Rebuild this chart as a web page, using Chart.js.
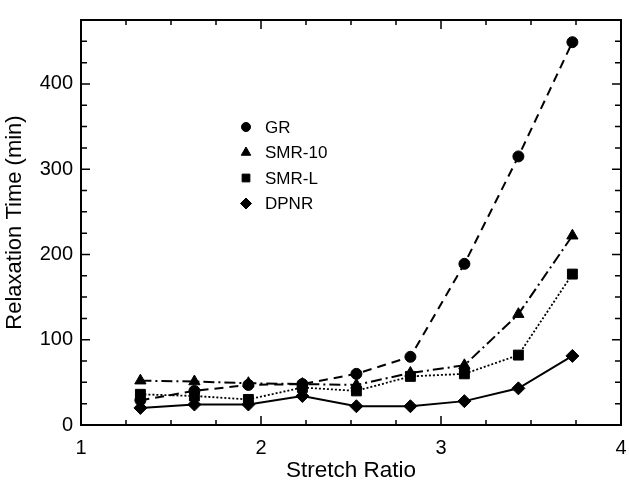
<!DOCTYPE html>
<html>
<head>
<meta charset="utf-8">
<script src="https://cdn.jsdelivr.net/npm/chart.js@4/dist/chart.umd.min.js"></script>
<style>
  html, body { margin: 0; padding: 0; background: #fff; }
  #wrap { width: 629px; height: 482px; }
</style>
</head>
<body>
<div id="wrap"><canvas id="chart" width="629" height="482"></canvas></div>
<script>
var stretchRatio = [1.33, 1.63, 1.93, 2.23, 2.53, 2.83, 3.13, 3.43, 3.73];
var grValues = [29, 40, 47, 48, 60, 80, 189, 315, 449];
var smr10Values = [52, 51, 49, 48, 47, 61, 70, 130, 222];
var smrLValues = [36, 34, 30, 44, 40, 57, 60, 82, 177];
var dpnrValues = [20, 24, 24, 34, 22, 22, 28, 43, 81];
var seriesNames = ["GR", "SMR-10", "SMR-L", "DPNR"];
var xTickLabels = [1, 2, 3, 4];
var yTickLabels = [0, 100, 200, 300, 400];

var FONT = "'Liberation Sans', Arial, Helvetica, sans-serif";

function toPoints(values) {
  return values.map(function(v, i) { return { x: stretchRatio[i], y: v }; });
}

var styles = [
  { dash: [9, 6], point: "circle", radius: 5.5 },
  { dash: [11, 4, 2, 4], point: "triangle", radius: 6.5 },
  { dash: [2, 2], point: "rect", radius: 7 },
  { dash: [], point: "rectRot", radius: 6.5 }
];
var allValues = [grValues, smr10Values, smrLValues, dpnrValues];

var datasets = allValues.map(function(values, i) {
  return {
    label: seriesNames[i],
    data: toPoints(values),
    borderColor: "#000",
    backgroundColor: "#000",
    borderWidth: i == 2 ? 1.8 : 2,
    borderDash: styles[i].dash,
    pointStyle: styles[i].point,
    pointRadius: styles[i].radius,
    pointBorderWidth: 1,
    tension: 0,
    fill: false
  };
});

// frame with inward ticks on all four sides
var framePlugin = {
  id: "frame",
  beforeDatasetsDraw: function(chart) {
    var ctx = chart.ctx;
    var a = chart.chartArea;
    var xs = chart.scales.x, ys = chart.scales.y;
    ctx.save();
    ctx.strokeStyle = "#000";
    ctx.lineWidth = 2;
    ctx.strokeRect(a.left, a.top, a.right - a.left, a.bottom - a.top);
    ctx.lineWidth = 1.5;
    ctx.beginPath();
    for (var v = 1; v <= 4.001; v += 0.25) {
      var px = xs.getPixelForValue(v);
      var len = Math.abs(v - Math.round(v)) < 0.01 ? 9 : 5;
      ctx.moveTo(px, a.bottom); ctx.lineTo(px, a.bottom - len);
      ctx.moveTo(px, a.top); ctx.lineTo(px, a.top + len);
    }
    for (var w = 0; w <= 475; w += 25) {
      var py = ys.getPixelForValue(w);
      var l2 = w % 100 == 0 ? 9 : 6;
      ctx.moveTo(a.left, py); ctx.lineTo(a.left + l2, py);
      ctx.moveTo(a.right, py); ctx.lineTo(a.right - l2, py);
    }
    ctx.stroke();
    ctx.restore();
  }
};

// legend drawn inside the plot area
var legendPlugin = {
  id: "innerLegend",
  afterDraw: function(chart) {
    var ctx = chart.ctx;
    var a = chart.chartArea;
    var mx = a.left + 165;
    var tx = a.left + 184;
    var y0 = a.top + 107;
    var sizes = [4.5, 5.5, 5.5, 5.5];
    ctx.save();
    ctx.font = "17px " + FONT;
    ctx.textBaseline = "middle";
    ctx.fillStyle = "#000";
    seriesNames.forEach(function(name, i) {
      var y = y0 + i * 25.5;
      ctx.strokeStyle = "#000";
      ctx.lineWidth = 1;
      Chart.helpers.drawPoint(ctx, { pointStyle: styles[i].point, radius: sizes[i], rotation: 0, borderWidth: 1 }, mx, y);
      ctx.fillText(name, tx, y + 1);
    });
    ctx.restore();
  }
};

new Chart(document.getElementById("chart").getContext("2d"), {
  type: "line",
  data: { datasets: datasets },
  options: {
    responsive: false,
    animation: false,
    devicePixelRatio: 1,
    layout: { padding: { left: 0, top: 14, right: 6, bottom: 0 } },
    plugins: { legend: { display: false }, tooltip: { enabled: false } },
    scales: {
      x: {
        type: "linear",
        min: 1,
        max: 4,
        afterBuildTicks: function(scale) {
          scale.ticks = xTickLabels.map(function(v) { return { value: v }; });
        },
        afterFit: function(scale) {
          scale.height = 57;
          scale.paddingLeft = 0;
          scale.paddingRight = 0;
        },
        grid: { display: false, drawTicks: false },
        border: { display: false },
        ticks: { color: "#000", padding: 11, maxRotation: 0, font: { family: FONT, size: 20 } },
        title: {
          display: true,
          text: "Stretch Ratio",
          color: "#000",
          padding: 0,
          font: { family: FONT, size: 22.5, lineHeight: 1 }
        }
      },
      y: {
        type: "linear",
        min: 0,
        max: 475,
        afterBuildTicks: function(scale) {
          scale.ticks = yTickLabels.map(function(v) { return { value: v }; });
        },
        afterFit: function(scale) { scale.width = 81; },
        grid: { display: false, drawTicks: false },
        border: { display: false },
        ticks: { color: "#000", padding: 8, font: { family: FONT, size: 20 } },
        title: {
          display: true,
          text: "Relaxation Time (min)",
          color: "#000",
          padding: { top: 4, bottom: 0 },
          font: { family: FONT, size: 22, lineHeight: 1 }
        }
      }
    }
  },
  plugins: [framePlugin, legendPlugin]
});
</script>
</body>
</html>
